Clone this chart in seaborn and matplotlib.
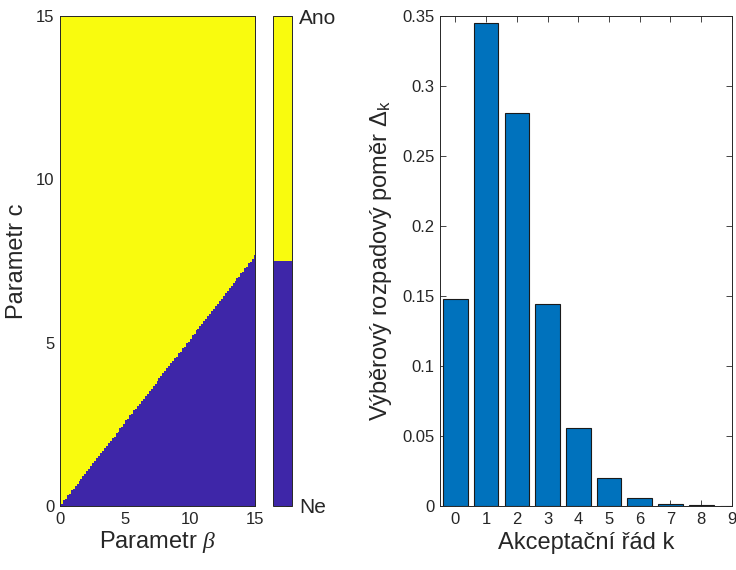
import numpy as np
import matplotlib
matplotlib.use("Agg")
import matplotlib.pyplot as plt
from matplotlib.colors import ListedColormap, BoundaryNorm
import seaborn as sns

# --- data -------------------------------------------------------------
# parameter grid for the region map
beta_grid = np.linspace(0, 15, 101)
c_grid = np.linspace(0, 15, 301)
# boundary of the "Ano" region (c above this line), endpoints in (beta, c)
boundary_beta = [0.0, 15.0]
boundary_c = [0.0, 7.65]
region_labels = ["Ne", "Ano"]

# sample decay ratio per acceptance order
orders = [0, 1, 2, 3, 4, 5, 6, 7, 8, 9]
ratios = [0.148, 0.345, 0.281, 0.1445, 0.056, 0.0198, 0.0055, 0.0017, 0.0005, 0.0001]

# --- style ------------------------------------------------------------
sns.set_theme(style="white")
plt.rcParams["font.family"] = ["Liberation Sans", "DejaVu Sans"]
plt.rcParams["mathtext.fontset"] = "custom"
plt.rcParams["mathtext.rm"] = "Liberation Sans"
plt.rcParams["mathtext.it"] = "Liberation Serif:italic"
axis_col = "#262626"
blue = "#3E26A8"
yellow = "#F9FB0E"
bar_col = "#0072BD"

def matlab_axes(ax):
    for s in ax.spines.values():
        s.set_color(axis_col)
        s.set_linewidth(0.7)
    ax.tick_params(direction="in", length=4, width=0.6, colors=axis_col,
                   labelcolor=axis_col, labelsize=12, top=True, right=True,
                   bottom=True, left=True, pad=4)

fig = plt.figure(figsize=(7.36, 5.70), dpi=100)
ax_map = fig.add_axes([0.0815, 0.1123, 0.265, 0.8596])
ax_cb = fig.add_axes([0.3709, 0.1123, 0.0258, 0.8596])
ax_bar = fig.add_axes([0.5978, 0.1123, 0.3967, 0.8596])

# --- region map -------------------------------------------------------
B, C = np.meshgrid(beta_grid, c_grid)
slope = (boundary_c[1] - boundary_c[0]) / (boundary_beta[1] - boundary_beta[0])
region = (C > boundary_c[0] + slope * (B - boundary_beta[0])).astype(float)
cmap = ListedColormap([blue, yellow])
norm = BoundaryNorm([-0.5, 0.5, 1.5], cmap.N)
mesh = ax_map.pcolormesh(beta_grid, c_grid, region, cmap=cmap, norm=norm,
                         shading="nearest", rasterized=True)
ax_map.set_xlim(0, 15)
ax_map.set_ylim(0, 15)
ax_map.set_xticks([0, 5, 10, 15])
ax_map.set_yticks([0, 5, 10, 15])
matlab_axes(ax_map)
ax_map.set_xlabel(r"Parametr $\mathit{\beta}$", fontsize=17, color=axis_col, labelpad=2)
ax_map.set_ylabel("Parametr c", fontsize=17, color=axis_col, labelpad=6)

# colour bar with the two outcomes
cb = fig.colorbar(mesh, cax=ax_cb, boundaries=[-0.5, 0.5, 1.5], values=[0, 1])
cb.minorticks_off()
cb.set_ticks([-0.5, 1.5])
cb.set_ticklabels(region_labels)
cb.outline.set_edgecolor(axis_col)
cb.outline.set_linewidth(0.7)
ax_cb.tick_params(which="major", direction="in", length=4, width=0.6,
                  colors=axis_col, labelsize=15, pad=5)
ax_cb.tick_params(which="minor", length=0)

# --- bar chart --------------------------------------------------------
sns.barplot(x=orders, y=ratios, color=bar_col, saturation=1, width=0.8,
            edgecolor="#1a1a1a", linewidth=0.8, ax=ax_bar)
ax_bar.set_xlim(-0.5, 9)
ax_bar.set_ylim(0, 0.35)
ax_bar.set_yticks(np.arange(0, 0.351, 0.05))
ax_bar.set_yticklabels(["0", "0.05", "0.1", "0.15", "0.2", "0.25", "0.3", "0.35"])
matlab_axes(ax_bar)
ax_bar.set_xlabel("Akceptační řád k", fontsize=17, color=axis_col, labelpad=4)
ax_bar.set_ylabel(r"Výběrový rozpadový poměr Δ$_{\mathrm{k}}$", fontsize=17,
                  color=axis_col, labelpad=6)

fig.savefig("out.png", dpi=100)
